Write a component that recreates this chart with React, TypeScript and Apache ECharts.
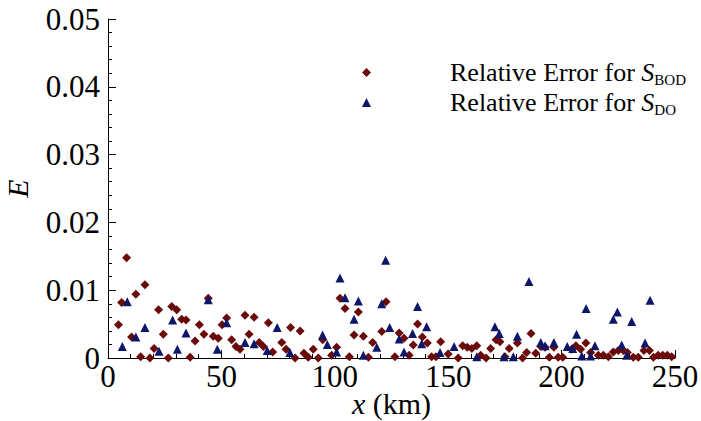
import React, { useEffect, useRef } from "react";
import * as echarts from "echarts";

// Relative error along the river, x in km
const bodErrors: [number, number][] = [
  [4.6, 0.0049], [6.0, 0.0082], [8.2, 0.0148], [10.4, 0.0031], [12.3, 0.0094], [14.4, 0.0002],
  [16.3, 0.0108], [18.5, 0.0000], [20.3, 0.0014], [22.3, 0.0071], [24.4, 0.0035], [26.6, 0.0000],
  [28.1, 0.0076], [30.3, 0.0071], [32.5, 0.0057], [34.4, 0.0056], [36.2, 0.0001], [38.4, 0.0025],
  [40.3, 0.0049], [42.3, 0.0035], [44.2, 0.0088], [46.4, 0.0032], [48.6, 0.0029], [50.3, 0.0049],
  [52.3, 0.0059], [54.5, 0.0027], [56.4, 0.0017], [58.2, 0.0013], [60.4, 0.0063], [62.2, 0.0035],
  [64.4, 0.0060], [66.7, 0.0023], [68.5, 0.0017], [70.7, 0.0052], [72.6, 0.0009], [76.6, 0.0023],
  [78.5, 0.0013], [80.5, 0.0045], [82.5, 0.0000], [84.7, 0.0040], [86.4, 0.0007], [88.3, 0.0001],
  [90.5, 0.0013], [92.7, 0.0000], [94.7, 0.0027], [98.6, 0.0004], [100.8, 0.0016], [102.3, 0.0088],
  [104.5, 0.0073], [106.4, 0.0002], [108.5, 0.0034], [110.4, 0.0068], [112.6, 0.0032], [114.8, 0.0001],
  [116.7, 0.0023], [120.7, 0.0039], [122.6, 0.0083], [126.5, 0.0002], [128.4, 0.0037], [130.5, 0.0029],
  [132.8, 0.0004], [134.6, 0.0019], [136.5, 0.0050], [138.6, 0.0031], [140.8, 0.0022], [142.7, 0.0002],
  [144.6, 0.0002], [146.7, 0.0024], [150.0, 0.0006], [154.4, 0.0000], [156.4, 0.0018], [158.4, 0.0016],
  [160.4, 0.0014], [162.6, 0.0018], [164.3, 0.0004], [166.7, 0.0000], [168.7, 0.0014], [171.1, 0.0027],
  [172.8, 0.0024], [175.0, 0.0002], [176.9, 0.0014], [180.5, 0.0022], [182.8, 0.0000], [184.6, 0.0008],
  [186.5, 0.0036], [188.6, 0.0007], [190.8, 0.0017], [192.7, 0.0016], [194.6, 0.0001], [196.6, 0.0016],
  [198.5, 0.0001], [200.5, 0.0001], [204.4, 0.0013], [206.3, 0.0018], [208.4, 0.0013], [210.7, 0.0022],
  [212.8, 0.0008], [216.2, 0.0004], [218.4, 0.0004], [220.6, 0.0002], [222.8, 0.0009], [225.0, 0.0011],
  [227.2, 0.0011], [229.0, 0.0008], [231.6, 0.0001], [233.8, 0.0001], [236.3, 0.0011], [238.7, 0.0011],
  [240.5, 0.0001], [242.6, 0.0004], [244.6, 0.0004], [246.6, 0.0004], [248.5, 0.0002],
];

const doErrors: [number, number][] = [
  [6.3, 0.0017], [8.5, 0.0083], [12.3, 0.0031], [16.3, 0.0045], [22.5, 0.0010], [28.5, 0.0056],
  [30.6, 0.0013], [34.4, 0.0037], [44.2, 0.0086], [48.2, 0.0013], [52.3, 0.0052], [60.4, 0.0023],
  [64.4, 0.0021], [70.2, 0.0011], [74.6, 0.0045], [80.2, 0.0008], [94.6, 0.0034], [96.7, 0.0020],
  [100.8, 0.0009], [102.3, 0.0118], [104.5, 0.0089], [108.5, 0.0057], [110.4, 0.0084], [112.6, 0.0004],
  [118.5, 0.0016], [120.7, 0.0080], [122.4, 0.0144], [124.2, 0.0045], [128.4, 0.0028], [130.5, 0.0009],
  [134.3, 0.0036], [136.5, 0.0076], [138.3, 0.0021], [140.5, 0.0046], [146.4, 0.0008], [152.6, 0.0017],
  [162.6, 0.0002], [170.6, 0.0046], [172.5, 0.0036], [174.6, 0.0002], [178.7, 0.0002], [180.5, 0.0032],
  [185.6, 0.0113], [190.8, 0.0023], [192.7, 0.0018], [196.6, 0.0023], [202.5, 0.0017], [204.9, 0.0014],
  [206.6, 0.0035], [208.9, 0.0003], [210.8, 0.0073], [212.8, 0.0003], [214.7, 0.0018], [222.8, 0.0057],
  [224.6, 0.0068], [226.5, 0.0019], [228.7, 0.0004], [230.9, 0.0054], [236.8, 0.0022], [239.0, 0.0085],
];

const seriesNames = ["bod", "do"];
const xRange = { min: 0, max: 250, step: 50 };
const yRange = { min: 0, max: 0.05, step: 0.01 };

const FONT = "Liberation Serif";

export default function App() {
  const ref = useRef<HTMLDivElement>(null);

  useEffect(() => {
    document.body.style.margin = "0";
    if (!ref.current) return;
    const chart = echarts.init(ref.current, undefined, { renderer: "svg" });

    const axisCommon = {
      axisLine: { show: true, lineStyle: { color: "#000", width: 1 } },
      axisTick: { show: true, inside: true, length: 8, lineStyle: { color: "#000" } },
      minorTick: { show: true, splitNumber: 5, length: 4, lineStyle: { color: "#000" } },
      splitLine: { show: false },
    };

    const legendRich = {
      p: { width: 74, lineHeight: 28 },
      n: { fontFamily: FONT, fontSize: 26, color: "#000", lineHeight: 28 },
      i: { fontFamily: FONT, fontSize: 26, fontStyle: "italic", color: "#000", lineHeight: 28 },
      s: { fontFamily: FONT, fontSize: 15, color: "#000", padding: [14, 0, 0, 0], lineHeight: 28 },
    };

    chart.setOption({
      animation: false,
      backgroundColor: "#fff",
      grid: { left: 108, right: 26, top: 19, bottom: 63, outerBoundsMode: "none", containLabel: false },
      legend: {
        orient: "vertical",
        left: 362,
        top: 58,
        padding: 0,
        itemWidth: 9,
        itemHeight: 9,
        itemGap: 1,
        data: [
          { name: seriesNames[0], icon: "diamond" },
          { name: seriesNames[1], icon: "triangle" },
        ],
        formatter: (name: string) =>
          name === "bod"
            ? "{p|}{n|Relative Error for }{i|S}{s|BOD}"
            : "{p|}{n|Relative Error for }{i|S}{s|DO}",
        textStyle: { rich: legendRich, fontFamily: FONT, fontSize: 26 },
      },
      xAxis: {
        type: "value",
        min: xRange.min,
        max: xRange.max,
        interval: xRange.step,
        ...axisCommon,
        axisLabel: { fontFamily: FONT, fontSize: 31, lineHeight: 26, color: "#000", margin: 5 },
        name: "{i|x} (km)",
        nameLocation: "middle",
        nameGap: 32,
        nameMoveOverlap: false,
        nameTextStyle: {
          fontFamily: FONT,
          fontSize: 30,
          lineHeight: 26,
          color: "#000",
          rich: { i: { fontFamily: FONT, fontSize: 30, lineHeight: 26, fontStyle: "italic", color: "#000" } },
        },
      },
      yAxis: {
        type: "value",
        min: yRange.min,
        max: yRange.max,
        interval: yRange.step,
        ...axisCommon,
        axisLabel: {
          fontFamily: FONT,
          fontSize: 31,
          color: "#000",
          margin: 8,
          formatter: (v: number) => (v === 0 ? "0" : v.toFixed(2)),
        },
        name: "E",
        nameLocation: "middle",
        nameRotate: 90,
        nameGap: 76,
        nameMoveOverlap: false,
        nameTextStyle: { fontFamily: FONT, fontSize: 30, fontStyle: "italic", color: "#000" },
      },
      series: [
        {
          name: seriesNames[0],
          type: "scatter",
          data: bodErrors,
          symbol: "diamond",
          symbolSize: 9,
          itemStyle: { color: "#6a0a0a", opacity: 1 },
        },
        {
          name: seriesNames[1],
          type: "scatter",
          data: doErrors,
          symbol: "triangle",
          symbolSize: 9,
          itemStyle: { color: "#0c176a", opacity: 1 },
        },
      ],
    });

    return () => chart.dispose();
  }, []);

  return <div ref={ref} style={{ width: 701, height: 421 }} />;
}
